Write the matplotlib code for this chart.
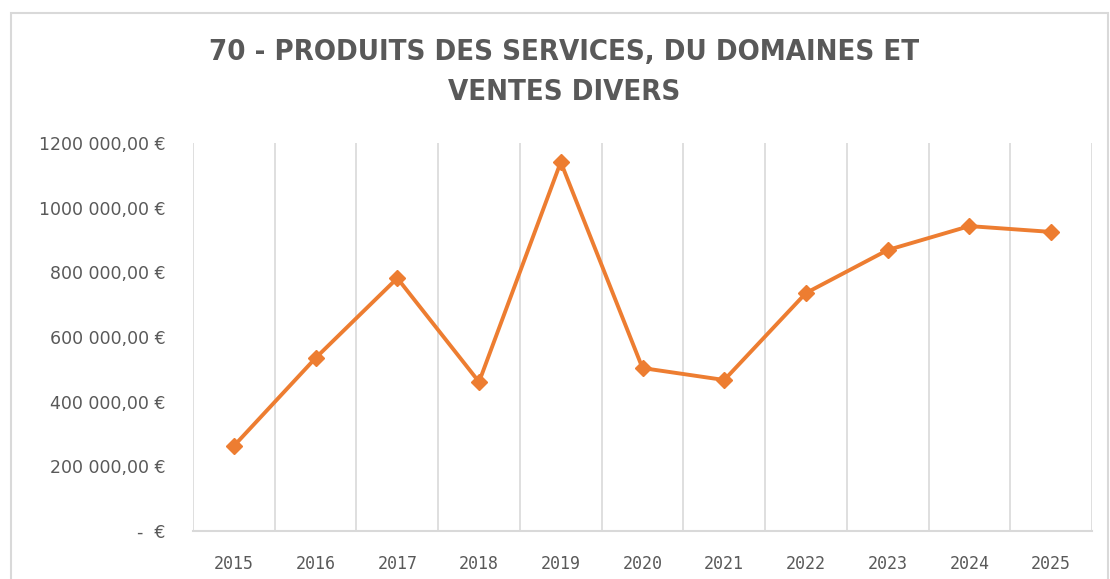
import matplotlib as mpl
mpl.use('Agg')
from matplotlib import pyplot as plt
from matplotlib.patches import Rectangle

# data
years = ["2015", "2016", "2017", "2018", "2019", "2020", "2021", "2022", "2023", "2024", "2025"]
values = [263000, 535000, 782000, 461000, 1141000, 504000, 467000, 736000, 869000, 943000, 925000]

yticks = [0, 200000, 400000, 600000, 800000, 1000000, 1200000]
ytick_labels = ["-  €", "200 000,00 €", "400 000,00 €", "600 000,00 €",
                "800 000,00 €", "1000 000,00 €", "1200 000,00 €"]

title = "70 - PRODUITS DES SERVICES, DU DOMAINES ET\nVENTES DIVERS"

orange = "#ED7D31"
grid_col = "#D9D9D9"
text_col = "#595959"

fig = plt.figure(figsize=(11.1, 5.79), dpi=100)

# chart border
fig.patches.append(Rectangle((11 / 1110, -0.01), 1097 / 1110, 1 - 13 / 579 + 0.01,
                             transform=fig.transFigure, fill=False,
                             edgecolor=grid_col, linewidth=1.5))

ax = fig.add_axes([193 / 1110, 1 - 531 / 579, (1092 - 193) / 1110, (531 - 143) / 579])

x = list(range(len(years)))
ax.plot(x, values, color=orange, linewidth=2.8, marker="D", markersize=8.5,
        solid_joinstyle="round")

ax.set_xlim(-0.5, len(years) - 0.5)
ax.set_ylim(0, 1200000)

# vertical gridlines between categories
for k in range(len(years) + 1):
    ax.axvline(k - 0.5, color=grid_col, linewidth=1.2, zorder=0)

for s in ["top", "right", "left"]:
    ax.spines[s].set_visible(False)
ax.spines["bottom"].set_color(grid_col)
ax.spines["bottom"].set_linewidth(1.5)

ax.set_xticks(x)
ax.set_xticklabels(years, family="DejaVu Sans Mono", fontsize=12, color=text_col)
ax.set_yticks(yticks)
ax.set_yticklabels(ytick_labels, fontsize=12.5, color=text_col)
ax.tick_params(axis="both", length=0)
ax.tick_params(axis="y", pad=20)
ax.tick_params(axis="x", pad=17)

fig.text(0.508, 1 - 72 / 579, title, ha="center", va="center", fontsize=21,
         fontweight="bold", color=text_col, linespacing=1.5,
         family="DejaVu Sans", fontstretch="condensed")

fig.savefig("out.png", dpi=100)
